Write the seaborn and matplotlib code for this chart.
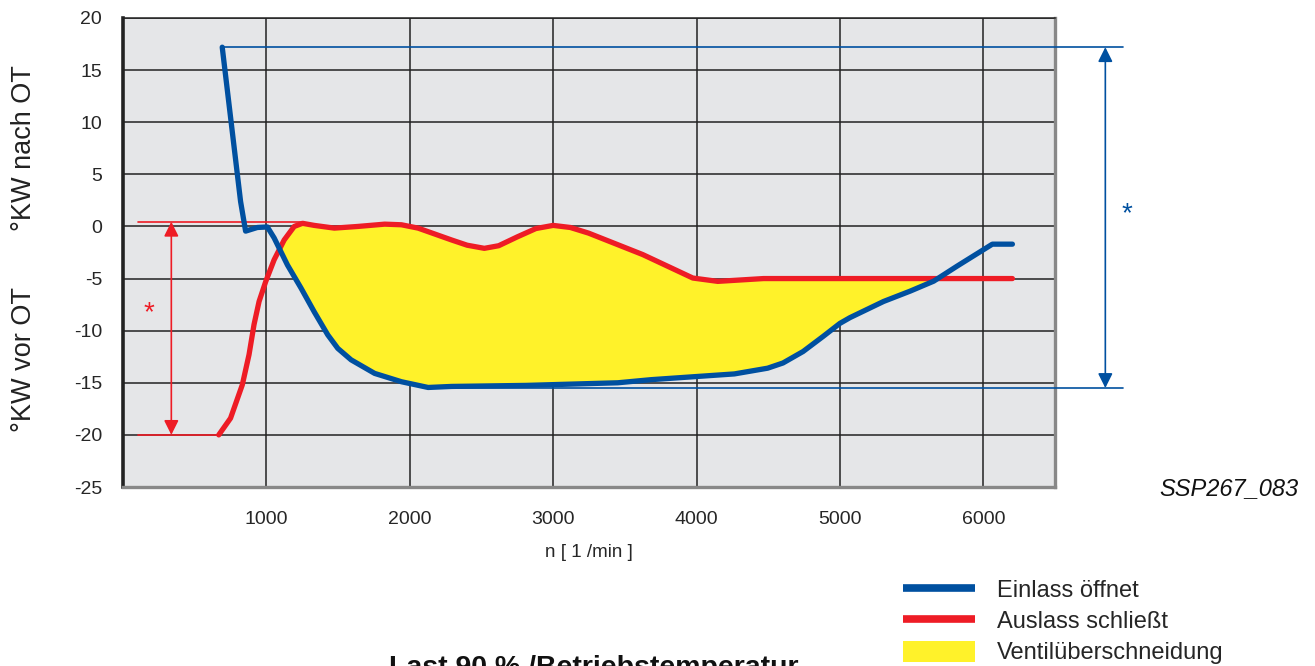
import numpy as np
import pandas as pd
import seaborn as sns
import matplotlib.pyplot as plt
from matplotlib.lines import Line2D
from matplotlib.patches import Patch

# Einlass öffnet (blaue Kurve)
einlass_n = [692, 820, 855, 937, 1007, 1054, 1147, 1241, 1334, 1428, 1498, 1591, 1755, 1942,
             2128, 2292, 2813, 3451, 3684, 4000, 4264, 4496, 4603, 4743, 4883, 5000, 5070,
             5304, 5491, 5654, 5818, 6063, 6203]
einlass_kw = [17.2, 2.4, -0.45, -0.1, -0.05, -1.1, -3.7, -5.9, -8.2, -10.4, -11.7, -12.8,
              -14.1, -14.9, -15.45, -15.35, -15.25, -15.0, -14.7, -14.4, -14.15, -13.6, -13.1,
              -12.0, -10.55, -9.3, -8.75, -7.2, -6.2, -5.25, -3.8, -1.7, -1.7]

# Auslass schließt (rote Kurve)
auslass_n = [668, 750, 832, 879, 914, 949, 995, 1054, 1124, 1194, 1252, 1334, 1474, 1638,
             1825, 1942, 2058, 2292, 2400, 2520, 2620, 2750, 2880, 3000, 3120, 3247, 3625,
             3974, 4148, 4467, 6203]
auslass_kw = [-20, -18.4, -15.2, -12.3, -9.4, -7.2, -5.3, -3.2, -1.3, 0.0, 0.3, 0.1, -0.16,
              0.0, 0.22, 0.16, -0.16, -1.3, -1.8, -2.1, -1.85, -1.0, -0.2, 0.1, -0.1, -0.64,
              -2.7, -4.95, -5.27, -5.0, -5.0]

x_ticks = [1000, 2000, 3000, 4000, 5000, 6000]
y_ticks = [-25, -20, -15, -10, -5, 0, 5, 10, 15, 20]

blau = '#0050a0'
rot = '#ee1c25'
gelb = '#fff22a'

sns.set_style('white')
plt.rcParams['font.family'] = ['Liberation Sans', 'DejaVu Sans']
plt.rcParams['axes.unicode_minus'] = False

fig = plt.figure(figsize=(13.15, 6.66), dpi=100)
ax = fig.add_axes([123 / 1315, 1 - 487 / 666, 932 / 1315, 469 / 666])
ax.set_facecolor('#e5e6e8')

df_ein = pd.DataFrame({'n': einlass_n, 'kw': einlass_kw})
df_aus = pd.DataFrame({'n': auslass_n, 'kw': auslass_kw})

# Ventilüberschneidung
grid = np.union1d(einlass_n, auslass_n)
grid = grid[(grid >= einlass_n[0]) & (grid <= einlass_n[-1])]
r = np.interp(grid, auslass_n, auslass_kw)
b = np.interp(grid, einlass_n, einlass_kw)
ax.fill_between(grid, b, r, where=r > b, interpolate=True, color=gelb, lw=0, zorder=2)

sns.lineplot(data=df_aus, x='n', y='kw', sort=False, estimator=None, color=rot, lw=3.8,
             ax=ax, zorder=4, solid_capstyle='round', solid_joinstyle='round')
sns.lineplot(data=df_ein, x='n', y='kw', sort=False, estimator=None, color=blau, lw=3.8,
             ax=ax, zorder=5, solid_capstyle='round', solid_joinstyle='round')

ax.set_xlim(0, 6500)
ax.set_ylim(-25, 20)
ax.set_xticks(x_ticks)
ax.set_yticks(y_ticks)
ax.grid(True, color='#222222', lw=1.1, zorder=1)
ax.set_axisbelow(True)
ax.tick_params(axis='x', direction='out', length=11, width=1.1, color='#222222',
               labelsize=14, pad=6)
ax.tick_params(axis='y', direction='out', length=12, width=1.1, color='#222222',
               labelsize=14, pad=3)
ax.set_xlabel('n [ 1 /min ]', fontsize=13.5, labelpad=12)
ax.set_ylabel('')

ax.spines['left'].set_color('#222222')
ax.spines['left'].set_linewidth(2.6)
ax.spines['bottom'].set_color('#888888')
ax.spines['bottom'].set_linewidth(2.4)
ax.spines['right'].set_color('#888888')
ax.spines['right'].set_linewidth(2.4)
ax.spines['top'].set_color('#222222')
ax.spines['top'].set_linewidth(1.1)

# rote Bemaßung
ax.plot([108, 1241], [0.45, 0.45], color=rot, lw=1.2, zorder=3, clip_on=False)
ax.plot([108, 668], [-20, -20], color=rot, lw=1.2, zorder=3, clip_on=False)
ax.annotate('', xy=(337, -20), xytext=(337, 0.45),
            arrowprops=dict(arrowstyle='<|-|>', color=rot, lw=1.2, mutation_scale=22,
                            shrinkA=0, shrinkB=0), zorder=3)
ax.text(178, -8.3, '*', color=rot, fontsize=20, ha='center', va='center')

# blaue Bemaßung
ax.plot([692, 6976], [17.2, 17.2], color=blau, lw=1.2, zorder=3, clip_on=False)
ax.plot([2150, 6976], [-15.5, -15.5], color=blau, lw=1.2, zorder=3, clip_on=False)
ax.annotate('', xy=(6851, -15.5), xytext=(6851, 17.2), annotation_clip=False,
            arrowprops=dict(arrowstyle='<|-|>', color=blau, lw=1.2, mutation_scale=22,
                            shrinkA=0, shrinkB=0))
ax.text(6998, 1.2, '*', color=blau, fontsize=20, ha='center', va='center', clip_on=False)

fig.text(24 / 1315, 1 - 148 / 666, '°KW nach OT', rotation=90, fontsize=19.5,
         ha='center', va='center', color='#222222')
fig.text(24 / 1315, 1 - 360 / 666, '°KW vor OT', rotation=90, fontsize=19.5,
         ha='center', va='center', color='#222222')
fig.text(1298 / 1315, 1 - 489 / 666, 'SSP267_083', fontsize=17, style='italic',
         ha='right', va='center', color='#111111')
fig.text(594 / 1315, 1 - 655 / 666, 'Last 90 % /Betriebstemperatur', fontsize=20.5,
         fontweight='bold', ha='center', va='top', color='#111111')

handles = [Line2D([], [], color=blau, lw=5.5, solid_capstyle='butt'),
           Line2D([], [], color=rot, lw=5.5, solid_capstyle='butt'),
           Patch(facecolor=gelb, edgecolor='none')]
fig.legend(handles, ['Einlass öffnet', 'Auslass schließt', 'Ventilüberschneidung'],
           loc='upper left', bbox_to_anchor=(903 / 1315, 1 - 579 / 666), frameon=False,
           fontsize=17, handlelength=3.05, handleheight=0.95, labelspacing=0.33,
           handletextpad=0.93, borderpad=0, borderaxespad=0)

fig.savefig('out.png', dpi=100)
